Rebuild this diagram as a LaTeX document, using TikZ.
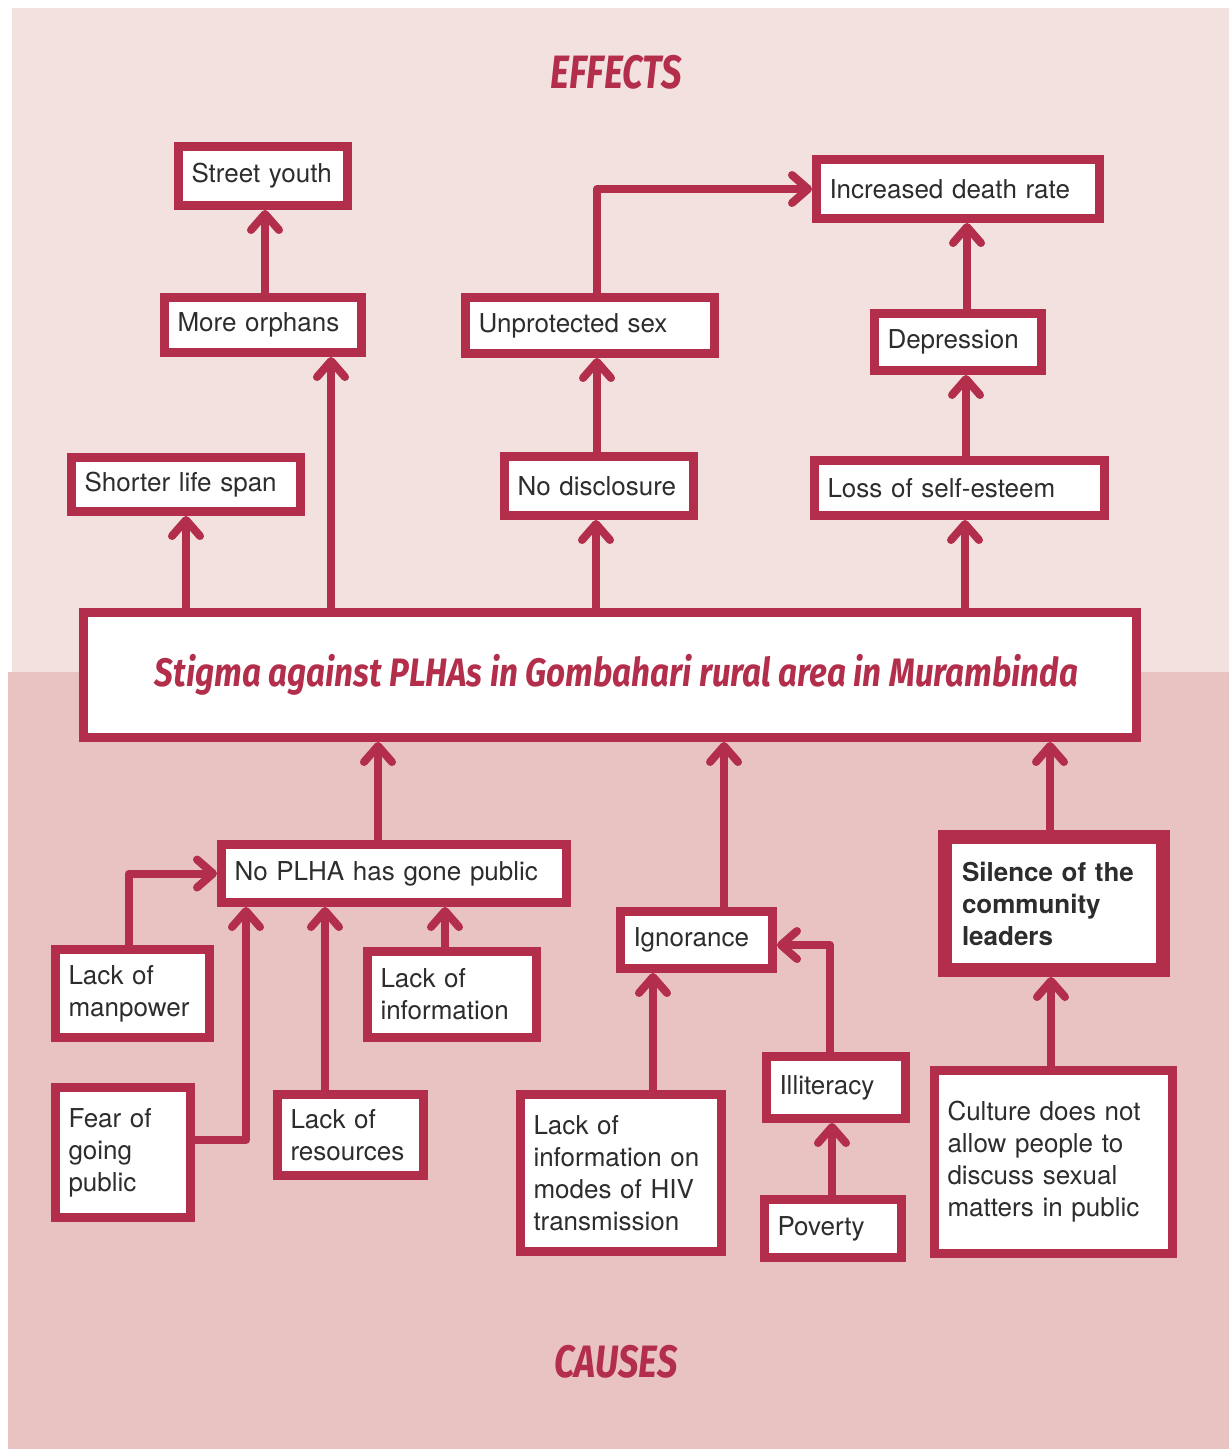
\documentclass[tikz,border=0pt]{standalone}
\usepackage{fontspec}
\setmainfont{TeX Gyre Heros}
\newfontfamily\titlefont{Fira Sans}
\usetikzlibrary{arrows.meta}
\definecolor{crim}{RGB}{178,46,75}
\definecolor{pinktop}{RGB}{243,225,224}
\definecolor{pinkbot}{RGB}{233,194,194}
\definecolor{txt}{RGB}{45,45,45}
\tikzset{
  bx/.style={draw=crim, line width=9pt, fill=white, rectangle, inner xsep=13pt, inner ysep=0pt,
     align=left, text=txt, font=\fontsize{26}{32}\selectfont},
  arr/.style={draw=crim, line width=8pt, line cap=round, line join=round,
     -{Straight Barb[length=16pt,width=28pt,line cap=round,line join=round]}},
  lbl/.style={text=crim, inner sep=0pt}
}
\begin{document}
\begin{tikzpicture}[x=1pt,y=-1pt]
\useasboundingbox (0,0) rectangle (1229,1449);
\fill[pinktop] (12,8) rectangle (1229,672);
\fill[pinkbot] (8,672) rectangle (1229,1449);

\node[lbl] (effects) at (616,72) {\resizebox*{131pt}{34pt}{\titlefont\bfseries\itshape EFFECTS}};
\node[lbl] (causes) at (616,1362) {\resizebox*{123pt}{33pt}{\titlefont\bfseries\itshape CAUSES}};

% effects
\node[bx, minimum width=169pt, text width=143pt, minimum height=59pt] (street) at (263,176) {Street youth};
\node[bx, minimum width=197pt, text width=171pt, minimum height=55pt] (orphans) at (263,325) {More orphans};
\node[bx, minimum width=229pt, text width=203pt, minimum height=54pt] (shorter) at (186,484.5) {Shorter life span};
\node[bx, minimum width=249pt, text width=223pt, minimum height=56pt] (unprot) at (590,325.5) {Unprotected sex};
\node[bx, minimum width=189pt, text width=163pt, minimum height=59pt] (nodisc) at (599,486) {No disclosure};
\node[bx, minimum width=283pt, text width=257pt, minimum height=59pt] (death) at (958,189) {Increased death rate};
\node[bx, minimum width=167pt, text width=141pt, minimum height=57pt] (depress) at (958,342) {Depression};
\node[bx, minimum width=290pt, text width=264pt, minimum height=55pt] (loss) at (959.5,488) {Loss of self-esteem};

% main
\node[bx, minimum width=1053pt, minimum height=125pt, align=center] (main) at (610,675)
  {\hspace*{13pt}\resizebox*{923pt}{41pt}{\titlefont\bfseries\itshape\color{crim}Stigma against PLHAs in Gombahari rural area in Murambinda}};

% causes
\node[bx, minimum width=345pt, text width=319pt, minimum height=58pt] (nopub) at (394,873.5) {No PLHA has gone public};
\node[bx, minimum width=154pt, text width=128pt, minimum height=88pt] (manpower) at (132.5,993.5) {Lack of\\manpower};
\node[bx, minimum width=169pt, text width=143pt, minimum height=86pt] (lackinfo) at (452,994.5) {Lack of\\information};
\node[bx, minimum width=135pt, text width=109pt, minimum height=130pt] (fear) at (123,1152.5) {Fear of\\going\\public};
\node[bx, minimum width=146pt, text width=120pt, minimum height=81pt] (resources) at (350.5,1135) {Lack of\\resources};
\node[bx, minimum width=152pt, text width=126pt, minimum height=57pt] (ignor) at (696.5,940) {Ignorance};
\node[bx, line width=14pt, inner xsep=17pt, minimum width=218pt, text width=184pt, minimum height=133pt, font=\fontsize{26}{32}\selectfont\bfseries] (silence) at (1054,903.5) {Silence of the\\community\\leaders};
\node[bx, minimum width=201pt, text width=175pt, minimum height=157pt] (modes) at (621,1173) {Lack of\\information on\\modes of HIV\\transmission};
\node[bx, minimum width=139pt, text width=113pt, minimum height=62pt] (illit) at (836,1087.5) {Illiteracy};
\node[bx, minimum width=137pt, text width=111pt, minimum height=58pt] (poverty) at (833,1228.5) {Poverty};
\node[bx, minimum width=238pt, text width=212pt, minimum height=183pt] (culture) at (1053.5,1162) {Culture does not\\allow people to\\discuss sexual\\matters in public};

% effect arrows
\draw[arr] (orphans.north -| 265,0) -- (street.south -| 265,0);
\draw[arr] (main.north -| 186,0) -- (shorter.south -| 186,0);
\draw[arr] (main.north -| 331,0) -- (orphans.south -| 331,0);
\draw[arr] (main.north -| 596,0) -- (nodisc.south -| 596,0);
\draw[arr] (nodisc.north -| 597,0) -- (unprot.south -| 597,0);
\draw[arr] (unprot.north -| 597,0) |- (death.west);
\draw[arr] (main.north -| 965,0) -- (loss.south -| 965,0);
\draw[arr] (loss.north -| 966,0) -- (depress.south -| 966,0);
\draw[arr] (depress.north -| 967,0) -- (death.south -| 967,0);

% cause arrows
\draw[arr] (nopub.north -| 378,0) -- (main.south -| 378,0);
\draw[arr] (ignor.north -| 724,0) -- (main.south -| 724,0);
\draw[arr] (silence.north -| 1050,0) -- (main.south -| 1050,0);
\draw[arr] (manpower.north -| 129,0) |- (nopub.west);
\draw[arr] (fear.east |- 0,1140) -| (nopub.south -| 246,0);
\draw[arr] (resources.north -| 325,0) -- (nopub.south -| 325,0);
\draw[arr] (lackinfo.north -| 445,0) -- (nopub.south -| 445,0);
\draw[arr] (modes.north -| 653,0) -- (ignor.south -| 653,0);
\draw[arr] (illit.north -| 830,0) |- (ignor.east |- 0,945);
\draw[arr] (poverty.north -| 832,0) -- (illit.south -| 832,0);
\draw[arr] (culture.north -| 1051,0) -- (silence.south -| 1051,0);
\end{tikzpicture}
\end{document}
